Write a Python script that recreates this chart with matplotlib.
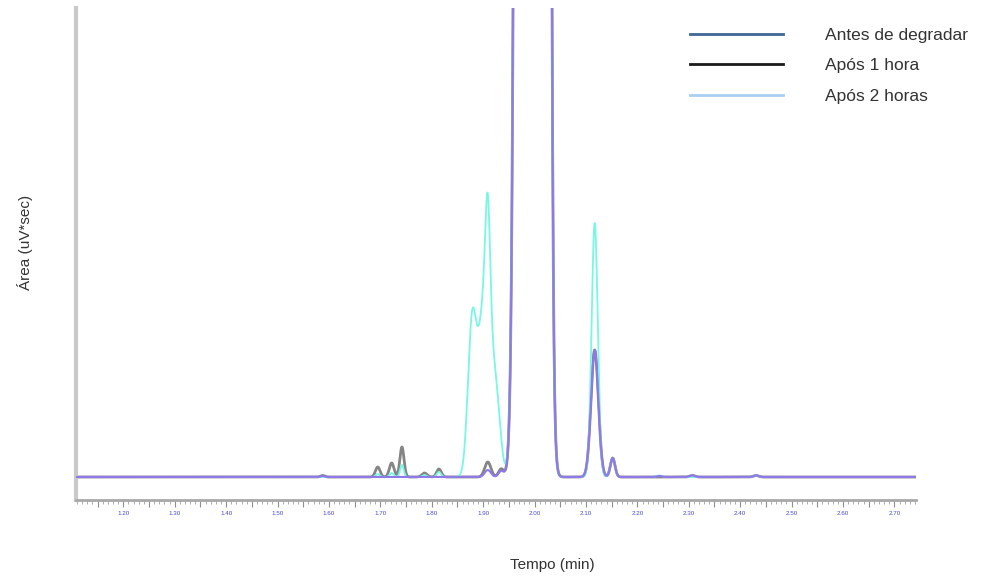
import numpy as np
import matplotlib
matplotlib.use("Agg")
import matplotlib.pyplot as plt
from matplotlib.lines import Line2D
from matplotlib.ticker import MultipleLocator, FuncFormatter

plt.rcParams['font.family'] = ['Liberation Sans', 'DejaVu Sans']

# ---- data (time in min, height in arbitrary units) ----
series_names = ["Antes de degradar", "Após 1 hora", "Após 2 horas"]

# main (off-scale) peak, asymmetric: centre, height, left width, right width
main_center = 2.000
main_height = 1.0e5
main_sigma_left = 0.0128
main_sigma_right = 0.0104

# minor peaks per series: retention time, height, width
antes_times = [1.588, 1.909, 1.935, 2.117, 2.152, 2.243, 2.307, 2.431]
antes_heights = [1.0, 7.0, 6.0, 127.0, 19.0, 1.0, 1.5, 1.5]
antes_widths = [0.004, 0.006, 0.005, 0.0072, 0.0045, 0.005, 0.005, 0.005]

hora1_times = [1.588, 1.695, 1.722, 1.742, 1.786, 1.814, 1.909, 1.935, 2.117, 2.152, 2.307, 2.431]
hora1_heights = [1.5, 10.0, 14.0, 30.0, 4.0, 8.0, 15.0, 8.0, 127.0, 19.0, 1.5, 1.5]
hora1_widths = [0.004, 0.0045, 0.0045, 0.0040, 0.005, 0.0045, 0.006, 0.005, 0.0072, 0.0045, 0.005, 0.005]

hora2_times = [1.695, 1.722, 1.742, 1.786, 1.814, 1.878, 1.905, 1.909, 1.928, 2.117, 2.152, 2.243, 2.431]
hora2_heights = [3.0, 4.0, 12.0, 2.0, 5.0, 135.0, 190.0, 100.0, 35.0, 254.0, 19.0, 1.5, 1.5]
hora2_widths = [0.004, 0.004, 0.0035, 0.004, 0.004, 0.0080, 0.0140, 0.0045, 0.007, 0.0060, 0.0045, 0.005, 0.005]

x_min, x_max = 1.108, 2.742

line_colors = ['#8f78ea', '#858585', '#78f7e2']
legend_colors = ['#3f6796', '#1a1a1a', '#a9cff2']


def chromatogram(t, times, heights, widths):
    y = np.zeros_like(t)
    for c, h, w in zip(times, heights, widths):
        y += h * np.exp(-0.5 * ((t - c) / w) ** 2)
    sig = np.where(t < main_center, main_sigma_left, main_sigma_right)
    y += main_height * np.exp(-0.5 * ((t - main_center) / sig) ** 2)
    return y


t = np.linspace(x_min, x_max, 6000)
y_antes = chromatogram(t, antes_times, antes_heights, antes_widths)
y_h1 = chromatogram(t, hora1_times, hora1_heights, hora1_widths)
y_h2 = chromatogram(t, hora2_times, hora2_heights, hora2_widths)

W, H = 993, 578
fig = plt.figure(figsize=(W / 100, H / 100), dpi=100)
ax = fig.add_axes([76 / W, 78 / H, 840 / W, 492 / H])

ax.plot(t, y_h1, color=line_colors[1], lw=2.0, zorder=2)
ax.plot(t, y_h2, color=line_colors[2], lw=1.3, zorder=3)
ax.plot(t, y_antes, color=line_colors[0], lw=1.5, zorder=4)

ax.set_xlim(x_min, x_max)
ax.set_ylim(-23, 469)

for s in ['top', 'right']:
    ax.spines[s].set_visible(False)
ax.spines['left'].set_color('#c9c9c9')
ax.spines['left'].set_linewidth(3)
ax.spines['bottom'].set_color('#a8a8a8')
ax.spines['bottom'].set_linewidth(2)

ax.set_yticks([])
ax.xaxis.set_major_locator(MultipleLocator(0.05))
ax.xaxis.set_minor_locator(MultipleLocator(0.01))


def fmt(v, pos):
    k = round(v * 100)
    return f"{v:.2f}" if k % 10 == 0 else ""


ax.xaxis.set_major_formatter(FuncFormatter(fmt))
ax.tick_params(axis='x', which='major', length=5, width=0.8, color='#909090',
               labelsize=4.5, labelcolor='#4b4bd2', pad=3)
ax.tick_params(axis='x', which='minor', length=3, width=0.6, color='#a0a0a0')

fig.text(25 / W, 1 - 242 / H, 'Área (uV*sec)', rotation=90, ha='center', va='center',
         fontsize=11, color='#333333')
fig.text(552 / W, 1 - 565 / H, 'Tempo (min)', ha='center', va='center',
         fontsize=11, color='#333333')

handles = [Line2D([], [], color=c, lw=2) for c in legend_colors]
fig.legend(handles, series_names, loc='upper left', bbox_to_anchor=(690 / W, 1 - 28 / H),
           frameon=False, fontsize=12.5, handlelength=5.36, handletextpad=2.42,
           labelspacing=0.87, borderpad=0, borderaxespad=0, labelcolor='#333333')

fig.savefig('out.png', dpi=100)
